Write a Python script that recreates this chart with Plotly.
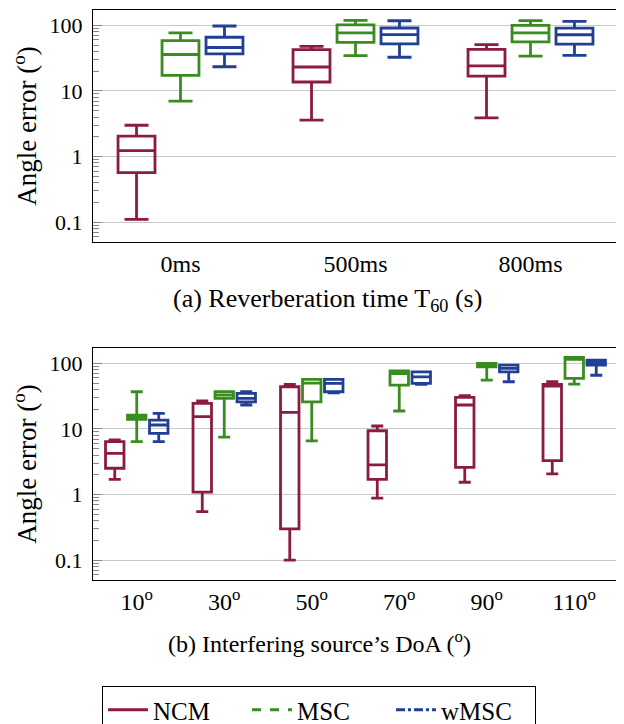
import plotly.graph_objects as go
from plotly.subplots import make_subplots

# ---------------- data ----------------
top_categories = ["0ms", "500ms", "800ms"]
top_ncm_lower = [0.11, 3.6, 3.9]
top_ncm_q1 = [0.57, 13.7, 16.8]
top_ncm_median = [1.23, 23.2, 24.1]
top_ncm_q3 = [2.05, 42.7, 43.2]
top_ncm_upper = [3.0, 48.0, 50.8]

top_msc_lower = [7.0, 34.7, 34.0]
top_msc_q1 = [17.3, 55.0, 56.0]
top_msc_median = [36.0, 76.7, 77.0]
top_msc_q3 = [58.6, 102.0, 100.0]
top_msc_upper = [76.7, 119.0, 118.0]

top_wmsc_lower = [23.4, 32.7, 35.0]
top_wmsc_q1 = [36.9, 52.3, 52.0]
top_wmsc_median = [46.0, 72.3, 72.0]
top_wmsc_q3 = [66.0, 91.3, 91.0]
top_wmsc_upper = [98.0, 117.8, 115.0]

bot_categories = ["10<sup>o</sup>", "30<sup>o</sup>", "50<sup>o</sup>",
                  "70<sup>o</sup>", "90<sup>o</sup>", "110<sup>o</sup>"]
bot_ncm_lower = [1.71, 0.55, 0.10, 0.88, 1.54, 2.07]
bot_ncm_q1 = [2.52, 1.09, 0.30, 1.71, 2.6, 3.3]
bot_ncm_median = [4.25, 15.4, 17.9, 2.83, 23.2, 45.0]
bot_ncm_q3 = [6.4, 24.6, 44.1, 9.4, 30.4, 47.9]
bot_ncm_upper = [6.8, 26.7, 47.9, 11.1, 32.2, 52.6]

bot_msc_lower = [6.4, 7.5, 6.6, 18.8, 55.7, 48.3]
bot_msc_q1 = [14.0, 29.3, 26.0, 46.8, 89.0, 59.0]
bot_msc_median = [15.4, 32.9, 50.0, 70.0, 95.0, 115.0]
bot_msc_q3 = [16.3, 37.0, 57.0, 77.0, 100.0, 123.0]
bot_msc_upper = [37.0, 37.0, 57.0, 77.0, 100.0, 123.0]

bot_wmsc_lower = [6.4, 23.2, 35.7, 48.0, 52.5, 66.0]
bot_wmsc_q1 = [8.6, 26.0, 37.0, 49.6, 74.5, 94.0]
bot_wmsc_median = [11.5, 29.3, 49.7, 62.5, 84.0, 103.0]
bot_wmsc_q3 = [13.7, 34.9, 57.0, 74.5, 94.0, 112.0]
bot_wmsc_upper = [17.3, 37.0, 57.0, 74.5, 94.0, 112.0]

series_names = ["NCM", "MSC", "wMSC"]
y_tickvals = [0.1, 1, 10, 100]
y_ticktext = ["0.1", "1", "10", "100"]
caption_top = "(a) Reverberation time T<sub>60</sub> (s)"
caption_bottom = "(b) Interfering source\u2019s DoA (<sup>o</sup>)"
y_title = "Angle error (<sup>o</sup>)"

# ---------------- style ----------------
colors = {"NCM": "#8c1c3f", "MSC": "#3a8c1e", "wMSC": "#213f94"}
dashes = {"NCM": "solid", "MSC": "dash", "wMSC": "dashdot"}
FONT = "Liberation Serif"

fig = make_subplots(rows=2, cols=1, vertical_spacing=0.186)

top_data = {
    "NCM": (top_ncm_lower, top_ncm_q1, top_ncm_median, top_ncm_q3, top_ncm_upper),
    "MSC": (top_msc_lower, top_msc_q1, top_msc_median, top_msc_q3, top_msc_upper),
    "wMSC": (top_wmsc_lower, top_wmsc_q1, top_wmsc_median, top_wmsc_q3, top_wmsc_upper),
}
bot_data = {
    "NCM": (bot_ncm_lower, bot_ncm_q1, bot_ncm_median, bot_ncm_q3, bot_ncm_upper),
    "MSC": (bot_msc_lower, bot_msc_q1, bot_msc_median, bot_msc_q3, bot_msc_upper),
    "wMSC": (bot_wmsc_lower, bot_wmsc_q1, bot_wmsc_median, bot_wmsc_q3, bot_wmsc_upper),
}

for row, cats, data in [(1, top_categories, top_data), (2, bot_categories, bot_data)]:
    for name in series_names:
        lo, q1, med, q3, up = data[name]
        fig.add_trace(go.Box(
            x=cats, lowerfence=lo, q1=q1, median=med, q3=q3, upperfence=up,
            name=name, offsetgroup=name, showlegend=False,
            line=dict(color=colors[name], width=2.8),
            fillcolor="rgba(255,255,255,0)",
            whiskerwidth=0.65, boxpoints=False, hoverinfo="skip",
        ), row=row, col=1)

# legend-only line samples
for name in series_names:
    fig.add_trace(go.Scatter(
        x=[None], y=[None], mode="lines", name=name,
        line=dict(color=colors[name], width=2.8, dash=dashes[name]),
        showlegend=True,
    ), row=1, col=1)

yaxis_common = dict(
    type="log", range=[-1.303, 2.235],
    tickvals=y_tickvals, ticktext=y_ticktext,
    ticks="inside", ticklen=9, tickcolor="#888", ticklabelstandoff=5,
    minor=dict(ticks="inside", ticklen=6, tickcolor="#888", dtick="D1", showgrid=False),
    showgrid=True, gridcolor="#c8c8c8", gridwidth=1,
    showline=True, linecolor="black", linewidth=1.2, mirror=True,
    zeroline=False,
    tickfont=dict(family=FONT, size=22, color="black"),
    title=dict(text=y_title, font=dict(family=FONT, size=27, color="black"), standoff=10),
)
fig.update_yaxes(**yaxis_common, row=1, col=1)
fig.update_yaxes(**yaxis_common, row=2, col=1)

xaxis_common = dict(
    type="category",
    showline=True, linecolor="black", linewidth=1.2, mirror=True,
    showgrid=False, ticks="", zeroline=False,
    tickfont=dict(family=FONT, size=24, color="black"),
)
fig.update_xaxes(**xaxis_common, row=1, col=1)
fig.update_xaxes(**xaxis_common, row=2, col=1)

fig.add_annotation(text=caption_top, xref="paper", yref="paper",
                   x=0.4476, y=0.491, xanchor="center", yanchor="middle",
                   showarrow=False, font=dict(family=FONT, size=26, color="black"))
fig.add_annotation(text=caption_bottom, xref="paper", yref="paper",
                   x=0.432, y=-0.109, xanchor="center", yanchor="middle",
                   showarrow=False, font=dict(family=FONT, size=24, color="black"))

fig.update_layout(
    width=616, height=716,
    margin=dict(l=85, r=6, t=2, b=144),
    paper_bgcolor="white", plot_bgcolor="white",
    boxmode="group", boxgap=0.246, boxgroupgap=0.16,
    font=dict(family=FONT, color="black"),
    legend=dict(
        orientation="h", xref="container", yref="container",
        x=94 / 616, xanchor="left", y=1 - 678 / 716, yanchor="top",
        bordercolor="black", borderwidth=1,
        font=dict(family=FONT, size=25, color="black"),
        itemwidth=40, entrywidthmode="pixels", entrywidth=89,
    ),
)

fig.write_html("out.html")
